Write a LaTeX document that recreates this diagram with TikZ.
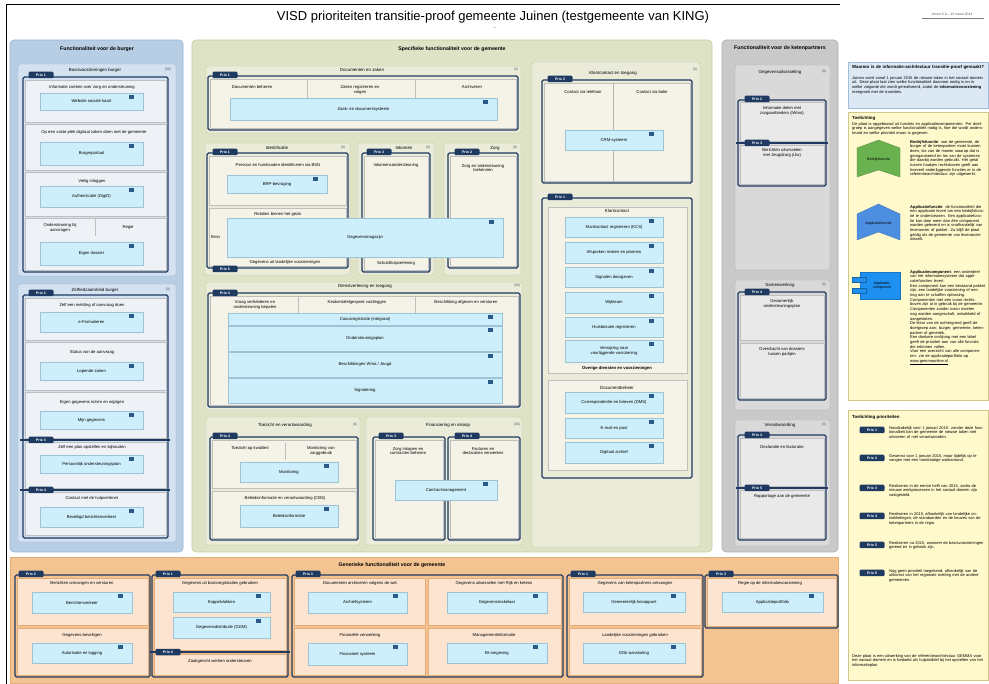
\documentclass[tikz,border=0pt]{standalone}
\usepackage{fontspec}
\setmainfont{Liberation Sans}
\definecolor{navy}{HTML}{1F3A60}
\definecolor{pblue}{HTML}{B8CEE4}
\definecolor{pbluedk}{HTML}{98B4D2}
\definecolor{bgrpfill}{HTML}{D3E1F0}
\definecolor{bcellfill}{HTML}{EEF2F7}
\definecolor{pgreen}{HTML}{DFE3C6}
\definecolor{pgreendk}{HTML}{C3C8A2}
\definecolor{ggrpfill}{HTML}{EAEBD9}
\definecolor{gcellfill}{HTML}{F5F3E7}
\definecolor{pgray}{HTML}{C9C9C9}
\definecolor{pgraydk}{HTML}{B0B0B0}
\definecolor{kgrpfill}{HTML}{D9D9D9}
\definecolor{kcellfill}{HTML}{E9E9E9}
\definecolor{porange}{HTML}{F4C392}
\definecolor{porangedk}{HTML}{E3AD78}
\definecolor{ocellfill}{HTML}{FCE4D1}
\definecolor{appfill}{HTML}{CDEFFB}
\definecolor{appedge}{HTML}{9CC3D6}
\definecolor{iconblue}{HTML}{2C5A88}
\definecolor{legblue}{HTML}{DCE8F4}
\definecolor{legbluedk}{HTML}{A3BEDB}
\definecolor{legyellow}{HTML}{FFF9CC}
\definecolor{legyellowdk}{HTML}{CFC78C}
\definecolor{fgreen}{HTML}{6AB150}
\definecolor{fblue}{HTML}{4C8FE0}
\definecolor{cblue}{HTML}{1E90F0}

\begin{document}
\begin{tikzpicture}
[x=1pt,y=-1pt,
panel/.style={rounded corners=4pt,line width=.6pt},
bluepanel/.style={panel,fill=pblue,draw=pbluedk},
greenpanel/.style={panel,fill=pgreen,draw=pgreendk},
graypanel/.style={panel,fill=pgray,draw=pgraydk},
orangepanel/.style={fill=porange,draw=porangedk,line width=.6pt},
bgrp/.style={fill=bgrpfill,draw=pbluedk,line width=.4pt,rounded corners=2pt},
ggrp/.style={fill=ggrpfill,draw=pgreendk,line width=.4pt,rounded corners=2pt},
kgrp/.style={fill=kgrpfill,draw=pgraydk,line width=.4pt,rounded corners=2pt},
bcell/.style={fill=bcellfill,draw=black!25,line width=.3pt},
gcell/.style={fill=gcellfill,draw=black!25,line width=.3pt},
kcell/.style={fill=kcellfill,draw=black!25,line width=.3pt},
ocell/.style={fill=ocellfill,draw=porangedk,line width=.3pt},
prioframe/.style={draw=navy,line width=1.1pt,rounded corners=1.5pt},
prioline/.style={draw=navy,line width=1.1pt},
prio/.style={fill=navy,text=white,rounded corners=1.2pt,minimum width=25,minimum height=6.5,inner sep=0pt,font=\fontsize{3.6}{4}\selectfont\bfseries},
appblk/.style={fill=appfill,draw=appedge,line width=.3pt,inner sep=0pt,align=center,font=\fontsize{4.2}{4.8}\selectfont,
  path picture={\fill[iconblue] ([xshift=-9pt,yshift=-2pt]path picture bounding box.north east) rectangle ++(-5pt,-4pt);}},
lbl/.style={inner sep=0pt,align=center,font=\fontsize{4.2}{4.8}\selectfont},
ptitle/.style={inner sep=0pt,font=\fontsize{5.2}{6}\selectfont\bfseries},
gtitle/.style={inner sep=0pt,font=\fontsize{4.4}{5}\selectfont},
cnt/.style={inner sep=0pt,font=\fontsize{3.4}{4}\selectfont,text=black!65},
legtxt/.style={inner sep=0pt,anchor=north west,align=left,font=\fontsize{4}{4.7}\selectfont},
]
\useasboundingbox (0,0) rectangle (989,684);
\draw[line width=.8pt] (6,684) -- (6,4) -- (840,4);

% title
\node[font=\fontsize{13}{15}\selectfont] (title) at (493,17) {VISD prioriteiten transitie-proof gemeente Juinen (testgemeente van KING)};
\node[font=\fontsize{5}{5}\selectfont,inner sep=0pt] (subtitle) at (495,29) {-};
\node[cnt,align=center] (versie) at (952,14) {Versie 0.9 -- 12 maart 2014};
\draw[black!50,line width=.3pt] (922,18) -- (984,18);

% burger
\draw[bluepanel] (10,40) rectangle (183,552);
\node[ptitle] (tburger) at (97,49) {Functionaliteit voor de burger};

\draw[bgrp] (18,64) rectangle (176,276);
\node[gtitle] (tb1) at (95,70) {Basisvoorzieningen burger};
\node[cnt] (nb1) at (168,70) {(00)};
\draw[bcell] (25,80) rectangle (166,122);
\draw[bcell] (25,124) rectangle (166,170);
\draw[bcell] (25,172) rectangle (166,216);
\draw[bcell] (25,218) rectangle (166,270);
\draw[black!25,line width=.3pt] (95,219) -- (95,236);
\node[lbl] (lb1) at (92,87) {Informatie zoeken over zorg en ondersteuning};
\node[lbl] (lb2) at (94,132) {Op een vaste plek digitaal zaken doen met de gemeente};
\node[lbl] (lb3) at (92,181) {Veilig inloggen};
\node[lbl] (lb4) at (60,228) {Ondersteuning bij\\aanvragen};
\node[lbl] (lb5) at (128,227) {Regie};
\node[appblk,minimum width=103,minimum height=17] (bb1) at (91.5,101.5) {Website sociale kaart};
\node[appblk,minimum width=103,minimum height=23] (bb2) at (91.5,153.5) {Burgerportaal};
\node[appblk,minimum width=103,minimum height=21] (bb3) at (91.5,196.5) {Authenticatie (DigiD)};
\node[appblk,minimum width=103,minimum height=23] (bb4) at (91.5,253.5) {Eigen dossier};
\draw[prioframe] (23,77) rectangle (168,272);
\node[prio] (pb1) at (41,75) {Prio 1};

\draw[bgrp] (18,284) rectangle (176,542);
\node[gtitle] (tb2) at (95,290) {Zelfredzaamheid burger};
\node[cnt] (nb2) at (168,290) {(0)};
\draw[bcell] (25,298) rectangle (166,340);
\draw[bcell] (25,342) rectangle (166,390);
\draw[bcell] (25,392) rectangle (166,438);
\draw[bcell] (25,442) rectangle (166,488);
\draw[bcell] (25,492) rectangle (166,535);
\node[lbl] (lb6) at (92,305) {Zelf een melding of aanvraag doen};
\node[lbl] (lb7) at (92,352) {Status van de aanvraag};
\node[lbl] (lb8) at (92,402) {Eigen gegevens inzien en wijzigen};
\node[lbl] (lb9) at (92,447) {Zelf een plan opstellen en bijhouden};
\node[lbl] (lb10) at (92,498) {Contact met de hulpverlener};
\node[appblk,minimum width=103,minimum height=20] (bb5) at (91.5,322) {e-Formulieren};
\node[appblk,minimum width=103,minimum height=18] (bb6) at (91.5,371) {Lopende zaken};
\node[appblk,minimum width=103,minimum height=18] (bb7) at (91.5,420) {Mijn gegevens};
\node[appblk,minimum width=103,minimum height=18] (bb8) at (91.5,464) {Persoonlijk ondersteuningsplan};
\node[appblk,minimum width=103,minimum height=20] (bb9) at (91.5,517) {Beveiligd berichtenverkeer};
\draw[prioframe] (23,295) rectangle (168,538);
\draw[prioline] (20,440) -- (170,440);
\draw[prioline] (20,490) -- (170,490);
\node[prio] (pb2) at (41,293) {Prio 2};
\node[prio] (pb3) at (41,440) {Prio 3};
\node[prio] (pb4) at (41,490) {Prio 4};

% gemeente specifiek
\draw[greenpanel] (192,40) rectangle (712,552);
\node[ptitle] (tgem) at (452,49) {Specifieke functionaliteit voor de gemeente};

\draw[ggrp] (206,66) rectangle (521,133);
\node[gtitle] (tg1) at (362,70) {Documenten en zaken};
\node[cnt] (ng1) at (516,70) {(0)};
\draw[gcell] (210,79) rectangle (516,128);
\draw[black!25,line width=.3pt] (307,79) -- (307,98) (415,79) -- (415,98);
\node[lbl] (lg1) at (252,87) {Documenten beheren};
\node[lbl] (lg2) at (360,90) {Zaken registreren en\\volgen};
\node[lbl] (lg3) at (472,87) {Archiveren};
\node[appblk,minimum width=267,minimum height=22] (gb1) at (363.5,109) {Zaak- en documentsysteem};
\draw[prioframe] (208,76) rectangle (518,130);
\node[prio] (pg1) at (225,75) {Prio 1};

\draw[ggrp] (205,143) rectangle (350,275);
\node[gtitle] (tg2) at (277,148) {Identificatie};
\node[cnt] (ng2) at (343,148) {(0)};
\draw[gcell] (209,156) rectangle (346,205);
\draw[gcell] (209,208) rectangle (346,266);
\node[lbl] (lg4) at (278,165) {Persoon en huishouden identificeren via BSN};
\node[lbl] (lg5) at (278,214) {Relaties binnen het gezin};
\node[lbl] (lg6) at (285,262) {Gegevens uit landelijke voorzieningen};
\node[lbl,anchor=west] (lg7) at (211,237) {Bron};
\node[appblk,minimum width=100,minimum height=18] (gb2) at (277,184) {BRP-bevraging};

\draw[ggrp] (358,143) rectangle (434,275);
\node[gtitle] (tg3) at (404,148) {Inkomen};
\node[cnt] (ng3) at (428,148) {(0)};
\draw[gcell] (364,156) rectangle (428,270);
\node[lbl] (lg8) at (396,165) {Inkomensondersteuning};
\node[lbl] (lg9) at (396,263) {Schuldhulpverlening};

\draw[ggrp] (444,143) rectangle (521,275);
\node[gtitle] (tg4) at (495,148) {Zorg};
\node[cnt] (ng4) at (515,148) {(0)};
\draw[gcell] (450,156) rectangle (516,266);
\node[lbl] (lg10) at (483,168) {Zorg en ondersteuning\\toekennen};

\draw[prioframe] (207,153) rectangle (348,268);
\draw[prioframe] (362,153) rectangle (430,272);
\draw[prioframe] (448,153) rectangle (518,268);
\node[prio] (pg2) at (225,152) {Prio 1};
\node[prio] (pg3) at (379,152) {Prio 3};
\node[prio] (pg4) at (467,152) {Prio 2};
\node[prio] (pg5) at (225,269) {Prio 5};
\node[appblk,minimum width=276,minimum height=39] (gb3) at (365,237.5) {Gegevensmagazijn};

\draw[ggrp] (206,282) rectangle (522,410);
\node[gtitle] (tg5) at (365,286) {Dienstverlening en toegang};
\node[cnt] (ng5) at (517,286) {(00)};
\draw[gcell] (210,296) rectangle (518,405);
\draw[black!25,line width=.3pt] (298,296) -- (298,313) (415,296) -- (415,313);
\node[lbl] (lg11) at (255,305) {Vraag verhelderen en\\ondersteuning bepalen};
\node[lbl] (lg12) at (357,302) {Keukentafelgesprek vastleggen};
\node[lbl] (lg13) at (466,302) {Beschikking afgeven en versturen};
\node[appblk,minimum width=274,minimum height=12] (gb4) at (365,319) {Casusregistratie (integraal)};
\node[appblk,minimum width=274,minimum height=25] (gb5) at (365,338.5) {Ondersteuningsplan};
\node[appblk,minimum width=274,minimum height=25] (gb6) at (365,364.5) {Beschikkingen Wmo / Jeugd};
\node[appblk,minimum width=274,minimum height=25] (gb7) at (365,390.5) {Signalering};
\draw[prioframe] (208,293) rectangle (520,407);
\node[prio] (pg6) at (225,293) {Prio 4};

\draw[ggrp] (206,417) rectangle (360,545);
\node[gtitle] (tg6) at (285,425) {Toezicht en verantwoording};
\node[cnt] (ng6) at (355,425) {(0)};
\draw[gcell] (212,440) rectangle (356,488);
\draw[gcell] (212,491) rectangle (356,538);
\draw[black!25,line width=.3pt] (285,443) -- (285,460);
\node[lbl] (lg14) at (250,448) {Toezicht op kwaliteit};
\node[lbl] (lg15) at (321,451) {Monitoring van\\zorggebruik};
\node[lbl] (lg16) at (285,498) {Beleidsinformatie en verantwoording (CBS)};
\node[appblk,minimum width=98,minimum height=20] (gb8) at (289,472) {Monitoring};
\node[appblk,minimum width=98,minimum height=22] (gb9) at (289,516) {Beleidsinformatie};
\draw[prioframe] (210,437) rectangle (358,540);
\node[prio] (pg7) at (225,436) {Prio 4};

\draw[ggrp] (366,417) rectangle (522,545);
\node[gtitle] (tg7) at (448,425) {Financiering en inkoop};
\node[cnt] (ng7) at (517,425) {(00)};
\draw[gcell] (375,440) rectangle (443,538);
\draw[gcell] (450,440) rectangle (518,538);
\node[lbl] (lg17) at (408,451) {Zorg inkopen en\\contracten beheren};
\node[lbl] (lg18) at (483,451) {Facturen en\\declaraties verwerken};
\draw[prioframe] (373,437) rectangle (445,540);
\draw[prioframe] (448,437) rectangle (520,540);
\node[prio] (pg8) at (391,436) {Prio 3};
\node[prio] (pg9) at (467,436) {Prio 4};
\node[appblk,minimum width=102,minimum height=20] (gb10) at (446,490) {Contractmanagement};

\draw[ggrp] (532,62) rectangle (700,547);
\node[gtitle] (tg8) at (613,73) {Klantcontact en toegang};
\node[cnt] (ng8) at (695,70) {(0)};
\draw[gcell] (544,83) rectangle (690,181);
\draw[black!30,line width=.3pt] (613,83) -- (613,181);
\node[lbl] (lg19) at (583,92) {Contact via telefoon};
\node[lbl] (lg20) at (652,92) {Contact via balie};
\node[appblk,minimum width=98,minimum height=20] (gb11) at (614,140) {CRM-systeem};
\draw[prioframe] (542,80) rectangle (692,183);
\node[prio] (pg10) at (560,79) {Prio 2};

\draw[gcell] (548,207) rectangle (687,373);
\draw[gcell] (548,380) rectangle (687,470);
\node[gtitle] (tg9) at (617,211) {Klantcontact};
\node[appblk,minimum width=98,minimum height=20] (gb12) at (614,227) {Klantcontact registreren (KCS)};
\node[appblk,minimum width=98,minimum height=21] (gb13) at (614,252.5) {Afspraken maken en plannen};
\node[appblk,minimum width=98,minimum height=20] (gb14) at (614,277) {Signalen doorgeven};
\node[appblk,minimum width=98,minimum height=21] (gb15) at (614,302.5) {Wijkteam};
\node[appblk,minimum width=98,minimum height=20] (gb16) at (614,327) {Huisbezoek registreren};
\node[appblk,minimum width=98,minimum height=22] (gb17) at (614,351) {Verwijzing naar\\voorliggende voorziening};
\node[lbl,font=\fontsize{4.2}{4.8}\selectfont\bfseries] (lg21) at (617,368) {Overige diensten en voorzieningen};
\node[gtitle] (tg10) at (617,388) {Documentbeheer};
\node[appblk,minimum width=98,minimum height=21] (gb18) at (614,402.5) {Correspondentie en brieven (DMS)};
\node[appblk,minimum width=98,minimum height=20] (gb19) at (614,428) {E-mail en post};
\node[appblk,minimum width=98,minimum height=21] (gb20) at (614,452.5) {Digitaal archief};
\draw[prioframe] (542,198) rectangle (692,478);
\node[prio] (pg11) at (560,197) {Prio 1};

% ketenpartners
\draw[graypanel] (722,40) rectangle (838,552);
\node[ptitle] (tketen) at (780,48) {Functionaliteit voor de ketenpartners};

\draw[kgrp] (735,65) rectangle (830,270);
\node[gtitle] (tk1) at (780,72) {Gegevensuitwisseling};
\node[cnt] (nk1) at (824,72) {(0)};
\draw[kcell] (740,102) rectangle (824,141);
\draw[kcell] (740,145) rectangle (824,184);
\node[lbl] (lk1) at (782,111) {Informatie delen met\\zorgaanbieders (iWmo)};
\node[lbl] (lk2) at (782,153) {Berichten uitwisselen\\met Jeugdzorg (iJw)};
\draw[prioframe] (738,100) rectangle (826,186);
\draw[prioline] (736,143) -- (828,143);
\node[prio] (pk1) at (757,99) {Prio 2};
\node[prio] (pk2) at (757,143) {Prio 3};

\draw[kgrp] (735,280) rectangle (830,410);
\node[gtitle] (tk2) at (780,285) {Samenwerking};
\node[cnt] (nk2) at (824,285) {(0)};
\draw[kcell] (740,295) rectangle (824,340);
\draw[kcell] (740,343) rectangle (824,398);
\node[lbl] (lk3) at (782,304) {Gezamenlijk\\ondersteuningsplan};
\node[lbl] (lk4) at (782,352) {Overdracht van dossiers\\tussen partijen};
\draw[prioframe] (738,292) rectangle (826,400);
\node[prio] (pk3) at (757,292) {Prio 4};

\draw[kgrp] (735,420) rectangle (830,546);
\node[gtitle] (tk3) at (780,425) {Verantwoording};
\node[cnt] (nk3) at (824,425) {(0)};
\draw[kcell] (740,438) rectangle (824,486);
\draw[kcell] (740,490) rectangle (824,538);
\node[lbl] (lk5) at (782,447) {Declaratie en facturatie};
\node[lbl] (lk6) at (782,496) {Rapportage aan de gemeente};
\draw[prioframe] (738,435) rectangle (826,540);
\draw[prioline] (736,488) -- (828,488);
\node[prio] (pk4) at (757,435) {Prio 3};
\node[prio] (pk5) at (757,488) {Prio 5};

% generiek
\draw[orangepanel] (10,557) rectangle (838,683);
\node[ptitle] (tgen) at (392,565) {Generieke functionaliteit voor de gemeente};

\draw[ocell] (17,578) rectangle (148,625);
\draw[ocell] (17,628) rectangle (148,675);
\node[lbl] (lo1) at (82,583) {Berichten ontvangen en versturen};
\node[lbl] (lo2) at (82,635) {Gegevens beveiligen};
\node[appblk,minimum width=100,minimum height=21] (ob1) at (82,602.5) {Berichtenverkeer};
\node[appblk,minimum width=100,minimum height=20] (ob2) at (82,653) {Autorisatie en logging};
\draw[prioframe] (15,575) rectangle (150,677);
\node[prio] (po1) at (31,574) {Prio 2};

\draw[ocell] (154,578) rectangle (286,650);
\draw[ocell] (154,654) rectangle (286,675);
\node[lbl] (lo3) at (220,583) {Gegevens uit basisregistraties gebruiken};
\node[lbl] (lo4) at (220,661) {Zaakgericht werken ondersteunen};
\node[appblk,minimum width=97,minimum height=20] (ob3) at (221.5,602) {Koppelvlakken};
\node[appblk,minimum width=97,minimum height=21] (ob4) at (221.5,627.5) {Gegevensdistributie (GGM)};
\draw[prioframe] (152,575) rectangle (288,677);
\draw[prioline] (150,652) -- (290,652);
\node[prio] (po2) at (168,574) {Prio 1};
\node[prio] (po3) at (168,652) {Prio 4};

\draw[ocell] (294,578) rectangle (425,625);
\draw[ocell] (428,578) rectangle (561,625);
\draw[ocell] (294,628) rectangle (425,675);
\draw[ocell] (428,628) rectangle (561,675);
\node[lbl] (lo5) at (360,583) {Documenten archiveren volgens de wet};
\node[lbl] (lo6) at (494,583) {Gegevens uitwisselen met Rijk en ketens};
\node[lbl] (lo7) at (360,635) {Financi\"ele verwerking};
\node[lbl] (lo8) at (494,635) {Managementinformatie};
\node[appblk,minimum width=99,minimum height=21] (ob5) at (357.5,602.5) {Archiefsysteem};
\node[appblk,minimum width=100,minimum height=21] (ob6) at (497,602.5) {Gegevensmakelaar};
\node[appblk,minimum width=99,minimum height=22] (ob7) at (357.5,654) {Financieel systeem};
\node[appblk,minimum width=100,minimum height=20] (ob8) at (497,653) {BI-omgeving};
\draw[prioframe] (292,575) rectangle (563,677);
\node[prio] (po4) at (308,574) {Prio 3};

\draw[ocell] (569,578) rectangle (701,625);
\draw[ocell] (569,628) rectangle (701,675);
\node[lbl] (lo9) at (635,583) {Gegevens van ketenpartners ontvangen};
\node[lbl] (lo10) at (635,635) {Landelijke voorzieningen gebruiken};
\node[appblk,minimum width=102,minimum height=20] (ob9) at (634,602) {Gemeentelijk knooppunt};
\node[appblk,minimum width=102,minimum height=20] (ob10) at (634,653) {GGk-aansluiting};
\draw[prioframe] (567,575) rectangle (703,677);
\node[prio] (po5) at (583,574) {Prio 1};

\draw[ocell] (707,578) rectangle (836,626);
\node[lbl] (lo11) at (770,583) {Regie op de informatievoorziening};
\node[appblk,minimum width=101,minimum height=20] (ob11) at (772.5,602) {Applicatieportfolio};
\draw[prioframe] (705,575) rectangle (838,628);
\node[prio] (po6) at (721,574) {Prio 3};

% legenda
\draw[fill=legblue,draw=legbluedk,line width=.4pt] (848,62) rectangle (988,108);
\node[legtxt,text width=132,font=\fontsize{4.4}{5}\selectfont\bfseries] (waarom) at (852,65) {Waarom is de informatie-architectuur transitie-proof gemaakt?};
\node[legtxt,text width=133] (waaromtxt) at (852,76) {Juinen voert vanaf 1 januari 2015 de nieuwe taken in het sociaal domein uit. Deze plaat laat zien welke functionaliteit daarvoor nodig is en in welke volgorde die wordt gerealiseerd, zodat de \textbf{informatievoorziening} meegroeit met de transities.};

\draw[fill=legyellow,draw=legyellowdk,line width=.4pt] (848,112) rectangle (988,400);
\node[legtxt,font=\fontsize{4.4}{5}\selectfont\bfseries] (toel) at (852,116) {Toelichting};
\node[legtxt,text width=133] (toeltxt) at (852,122) {De plaat is opgebouwd uit functies en applicatiecomponenten. Per doelgroep is aangegeven welke functionaliteit nodig is, hoe die wordt ondersteund en welke prioriteit eraan is gegeven.};

\draw[fill=fgreen,draw=fgreen!80!black,line width=.3pt] (857,148) -- (878.5,140) -- (900,148) -- (900,177) -- (878.5,170) -- (857,177) -- cycle;
\node[lbl,font=\fontsize{3.6}{4.2}\selectfont] (fgr) at (878.5,160) {Bedrijfsfunctie};
\node[legtxt,text width=75] (fgrtxt) at (910,140) {\textbf{Bedrijfsfunctie}: wat de gemeente, de burger of de ketenpartner moet kunnen doen, los van de manier waarop dat is georganiseerd en los van de systemen die daarbij worden gebruikt. Het getal tussen haakjes rechtsboven geeft aan hoeveel onderliggende functies er in de referentiearchitectuur zijn uitgewerkt.};

\draw[fill=fblue,draw=fblue!80!black,line width=.3pt] (857,214) -- (878.5,204) -- (900,214) -- (900,240) -- (878.5,232) -- (857,240) -- cycle;
\node[lbl,font=\fontsize{3.6}{4.2}\selectfont] (fbl) at (878.5,224) {Applicatiefunctie};
\node[legtxt,text width=75] (fbltxt) at (910,205) {\textbf{Applicatiefunctie}: de functionaliteit die een applicatie levert om een bedrijfsfunctie te ondersteunen. Een applicatiefunctie kan door meer dan \'e\'en component worden geleverd en is onafhankelijk van leverancier of pakket. Zo blijft de plaat geldig als de gemeente van leverancier wisselt.};

\draw[fill=cblue,draw=cblue!80!black,line width=.3pt] (860,272) rectangle (900,299);
\draw[fill=cblue,draw=cblue!70!black,line width=.3pt] (852,277) rectangle (866,282);
\draw[fill=cblue,draw=cblue!70!black,line width=.3pt] (852,288) rectangle (866,293);
\node[lbl,font=\fontsize{3.6}{4.2}\selectfont] (fcb) at (882,285.5) {Applicatie-\\component};
\node[legtxt,text width=75] (fcbtxt) at (910,270) {\textbf{Applicatiecomponent}: een onderdeel van het informatiesysteem dat applicatiefuncties levert.\\
Een component kan een bestaand pakket zijn, een landelijke voorziening of een nog aan te schaffen oplossing.\\
Componenten met een icoon rechtsboven zijn al in gebruik bij de gemeente. Componenten zonder icoon moeten nog worden aangeschaft, ontwikkeld of aangesloten.\\
De kleur van de achtergrond geeft de doelgroep aan: burger, gemeente, ketenpartner of generiek.\\
Een donkere omlijning met een label geeft de prioriteit aan van alle functies die erbinnen vallen.\\
Voor een overzicht van alle componenten: zie de applicatieportfolio op\\ \underline{www.gemmaonline.nl}};

\draw[fill=legyellow,draw=legyellowdk,line width=.4pt] (848,410) rectangle (988,680);
\node[legtxt,font=\fontsize{4.4}{5}\selectfont\bfseries] (toelprio) at (852,415) {Toelichting prioriteiten};
\node[prio] (lp1) at (872,430) {Prio 1};
\node[legtxt,text width=96] (lpt1) at (889,426) {Noodzakelijk voor 1 januari 2015: zonder deze functionaliteit kan de gemeente de nieuwe taken niet uitvoeren of niet verantwoorden.};
\node[prio] (lp2) at (872,458) {Prio 2};
\node[legtxt,text width=96] (lpt2) at (889,454) {Gewenst voor 1 januari 2015, maar tijdelijk op te vangen met een handmatige workaround.};
\node[prio] (lp3) at (872,488) {Prio 3};
\node[legtxt,text width=96] (lpt3) at (889,484) {Realiseren in de eerste helft van 2015, zodra de nieuwe werkprocessen in het sociaal domein zijn vastgesteld.};
\node[prio] (lp4) at (872,516) {Prio 4};
\node[legtxt,text width=96] (lpt4) at (889,512) {Realiseren in 2015, afhankelijk van landelijke ontwikkelingen, de standaarden en de keuzes van de ketenpartners in de regio.};
\node[prio] (lp5) at (872,545) {Prio 5};
\node[legtxt,text width=96] (lpt5) at (889,541) {Realiseren na 2015, wanneer de basisvoorzieningen gereed en in gebruik zijn.};
\node[prio] (lp6) at (872,573) {Prio 6};
\node[legtxt,text width=96] (lpt6) at (889,569) {Nog geen prioriteit toegekend; afhankelijk van de uitkomst van het regionale overleg met de andere gemeenten.};
\node[legtxt,text width=133] (voetnoot) at (852,654) {Deze plaat is een uitwerking van de referentiearchitectuur GEMMA voor het sociaal domein en is bedoeld als hulpmiddel bij het opstellen van het informatieplan.};
\end{tikzpicture}
\end{document}
